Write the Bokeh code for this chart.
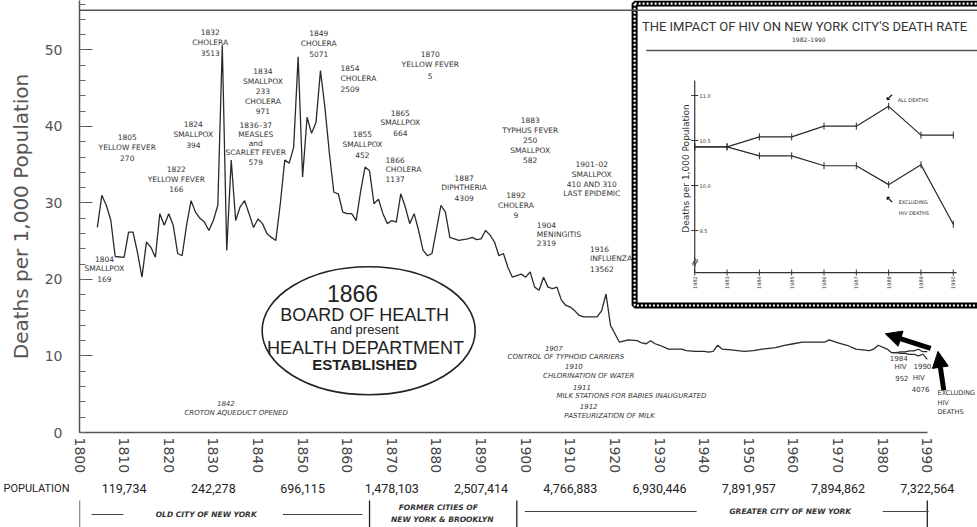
from math import pi
from bokeh.plotting import figure
from bokeh.models import Range1d, SingleIntervalTicker, FixedTicker, Span, Arrow, NormalHead
from bokeh.layouts import column
from bokeh.core.properties import value
from bokeh.embed import file_html
from bokeh.resources import INLINE

# ---------------- data ----------------
years = [1804, 1805, 1806, 1807, 1808, 1810, 1811, 1812, 1813, 1814, 1815, 1816, 1817, 1818, 1819,
         1820, 1821, 1822, 1823, 1824, 1825, 1826, 1827, 1828, 1829, 1830, 1831, 1832, 1833, 1834,
         1835, 1836, 1837, 1838, 1839, 1840, 1841, 1842, 1843, 1844, 1845, 1846, 1847, 1848, 1849,
         1850, 1851, 1852, 1853, 1854, 1855, 1856, 1857, 1858, 1859, 1860, 1861, 1862, 1863, 1864,
         1865, 1866, 1867, 1868, 1869, 1870, 1871, 1872, 1873, 1874, 1875, 1876, 1877, 1878, 1879,
         1880, 1881, 1882, 1883, 1885, 1887, 1888, 1889, 1890, 1891, 1892, 1893, 1894, 1895, 1896,
         1897, 1898, 1899, 1900, 1901, 1902, 1903, 1904, 1905, 1906, 1907, 1908, 1909, 1910, 1911,
         1912, 1913, 1916, 1917, 1918, 1919, 1920, 1921, 1923, 1925, 1926, 1927, 1928, 1929, 1930,
         1932, 1935, 1936, 1938, 1940, 1941, 1942, 1943, 1944, 1946, 1949, 1951, 1953, 1956, 1958,
         1960, 1962, 1965, 1967, 1968, 1970, 1972, 1974, 1977, 1978, 1979, 1981]
rates = [26.8, 31.0, 29.7, 27.8, 23.0, 22.9, 26.2, 26.2, 23.5, 20.3, 24.9, 24.2, 22.9, 28.6, 27.1,
         28.6, 27.1, 23.4, 23.1, 27.1, 30.3, 28.8, 28.0, 27.5, 26.4, 27.7, 29.7, 50.6, 23.8, 35.6,
         27.7, 29.5, 30.3, 28.6, 26.8, 27.9, 27.3, 26.0, 25.5, 25.1, 29.9, 35.6, 35.2, 37.3, 49.1,
         33.4, 41.2, 39.1, 40.5, 47.3, 42.5, 36.5, 31.4, 31.2, 28.8, 28.6, 28.6, 27.7, 31.5, 34.7,
         34.2, 29.9, 30.5, 28.6, 27.3, 27.7, 27.5, 31.2, 29.5, 27.3, 28.6, 26.4, 23.8, 23.1, 23.4,
         26.5, 29.7, 28.8, 25.5, 25.1, 25.3, 25.5, 25.2, 25.3, 26.4, 25.8, 24.9, 23.1, 23.4, 21.6,
         20.3, 20.5, 20.7, 20.3, 21.0, 19.0, 18.6, 20.3, 19.0, 18.8, 19.0, 17.3, 16.6, 16.4, 15.9,
         15.3, 15.1, 15.1, 15.9, 18.1, 14.0, 12.9, 11.8, 12.1, 12.0, 11.7, 11.6, 12.0, 11.6, 11.4,
         10.9, 10.9, 10.7, 10.6, 10.6, 10.5, 10.6, 11.4, 10.9, 10.8, 10.6, 10.7, 10.9, 11.1, 11.4,
         11.6, 11.8, 11.8, 11.8, 12.1, 11.7, 11.4, 10.9, 10.7, 10.9, 11.4, 10.9]

hiv_years = [1982, 1983, 1984, 1985, 1986, 1987, 1988, 1989, 1990]
all_deaths = [10.43, 10.43, 10.54, 10.54, 10.66, 10.66, 10.88, 10.56, 10.56]
excl_hiv = [10.43, 10.43, 10.33, 10.33, 10.22, 10.22, 10.01, 10.23, 9.57]

census_years = [1810, 1830, 1850, 1870, 1890, 1910, 1930, 1950, 1970, 1990]
population_labels = ["119,734", "242,278", "696,115", "1,478,103", "2,507,414",
                     "4,766,883", "6,930,446", "7,891,957", "7,894,862", "7,322,564"]
period_bounds = [1800, 1865, 1898, 1990]
decade_ticks = list(range(1800, 1991, 10))
inset_y_ticks = [9.5, 10.0, 10.5, 11.0]
inset_y_labels = ["9.5", "10.0", "10.5", "11.0"]

ANN = value("DejaVu Sans")
INK = "#2a2a2a"

# ---------------- main figure ----------------
p = figure(width=977, height=476, x_range=Range1d(1800, 2001.25), y_range=Range1d(0, 56.46),
           output_backend="svg", toolbar_location=None,
           min_border_left=76, min_border_right=0, min_border_top=0, min_border_bottom=44)
p.outline_line_color = None
p.xgrid.visible = False
p.ygrid.visible = False
p.background_fill_color = "white"

p.extra_x_ranges = {"ix": Range1d(1962.965, 1990.749)}
p.extra_y_ranges = {"iy": Range1d(7.256, 12.056)}

xa = p.xaxis[0]
xa.ticker = FixedTicker(ticks=decade_ticks)
xa.bounds = (1800, 1990)
xa.major_label_orientation = "vertical"
xa.major_tick_out = 0
xa.major_tick_in = 0
xa.minor_tick_out = 0
xa.minor_tick_in = 0
xa.major_label_standoff = 5
xa.major_label_text_font = "DejaVu Sans"
xa.major_label_text_font_size = "14px"
xa.major_label_text_color = "#444"
xa.axis_line_color = "#555"
xa.axis_line_width = 1.5

ya = p.yaxis[0]
ya.ticker = SingleIntervalTicker(interval=10, num_minor_ticks=5)
ya.major_tick_in = 13
ya.major_tick_out = 0
ya.minor_tick_in = 6
ya.minor_tick_out = 0
ya.major_tick_line_color = "#555"
ya.minor_tick_line_color = "#666"
ya.axis_line_color = "#555"
ya.axis_line_width = 1.5
ya.major_label_standoff = 17
ya.major_label_text_font = "DejaVu Sans"
ya.major_label_text_font_size = "14px"
ya.major_label_text_color = "#555"
ya.axis_label = "Deaths per 1,000 Population"
ya.axis_label_text_font = "DejaVu Sans"
ya.axis_label_text_font_size = "20px"
ya.axis_label_text_font_style = "normal"
ya.axis_label_text_color = "#555"
ya.axis_label_standoff = 9

p.add_layout(Span(location=55.2, dimension="width", line_color="#555", line_width=1.5))

# main series
p.line(years + [hiv_years[0]], rates + [all_deaths[0]], line_color=INK, line_width=1.3)
p.line(hiv_years, all_deaths, line_color=INK, line_width=1.2)
p.line(hiv_years, excl_hiv, line_color=INK, line_width=1.2)


def txt(fig, x, y, s, size="7.5px", align="center", style="normal", font=ANN, color="#333",
        angle=0, xr="default", yr="default"):
    fig.text(x=[x], y=[y], text=[s], text_font=font, text_font_size=size, text_align=align,
             text_baseline="middle", text_color=color, text_font_style=style, angle=angle,
             x_range_name=xr, y_range_name=yr)


notes = [
    (1810.7, 38.6, ["1805", "YELLOW FEVER", "270"], "center", 1.37),
    (1821.7, 34.4, ["1822", "YELLOW FEVER", "166"], "center", 1.31),
    (1825.5, 40.3, ["1824", "SMALLPOX", "394"], "center", 1.37),
    (1829.3, 52.3, ["1832", "CHOLERA", "3513"], "center", 1.37),
    (1841.1, 47.2, ["1834", "SMALLPOX", "233", "CHOLERA", "971"], "center", 1.31),
    (1839.5, 40.1, ["1836\u201337", "MEASLES", "and", "SCARLET FEVER", "579"], "center", 1.18),
    (1853.6, 52.2, ["1849", "CHOLERA", "5071"], "center", 1.37),
    (1858.5, 47.6, ["1854", "CHOLERA", "2509"], "left", 1.37),
    (1863.4, 39.0, ["1855", "SMALLPOX", "452"], "center", 1.37),
    (1878.6, 49.5, ["1870", "YELLOW FEVER", "5"], "center", 1.44),
    (1871.9, 41.8, ["1865", "SMALLPOX", "664"], "center", 1.31),
    (1868.6, 35.6, ["1866", "CHOLERA", "1137"], "left", 1.24),
    (1886.2, 33.3, ["1887", "DIPHTHERIA", "4309"], "center", 1.31),
    (1901.0, 40.8, ["1883", "TYPHUS FEVER", "250", "SMALLPOX", "582"], "center", 1.31),
    (1897.8, 31.0, ["1892", "CHOLERA", "9"], "center", 1.31),
    (1914.8, 35.0, ["1901\u201302", "SMALLPOX", "410 AND 310", "LAST EPIDEMIC"], "center", 1.27),
    (1902.5, 27.1, ["1904", "MENINGITIS", "2319"], "left", 1.18),
    (1914.4, 24.0, ["1916", "INFLUENZA", "13562"], "left", 1.31),
    (1805.6, 22.7, ["1804", "SMALLPOX", "169"], "center", 1.31),
]
for x, y, lines, align, dy in notes:
    for i, s in enumerate(lines):
        txt(p, x, y - i * dy, s, align=align)

italic_notes = [
    (1832.8, 3.8, "1842"), (1835.1, 2.5, "CROTON AQUEDUCT OPENED"),
    (1906.3, 11.1, "1907"), (1909.0, 9.93, "CONTROL OF TYPHOID CARRIERS"),
    (1910.8, 8.63, "1910"), (1914.1, 7.32, "CHLORINATION OF WATER"),
    (1912.6, 6.01, "1911"), (1923.7, 4.71, "MILK STATIONS FOR BABIES INAUGURATED"),
    (1914.1, 3.40, "1912"), (1918.8, 2.22, "PASTEURIZATION OF MILK"),
]
for x, y, s in italic_notes:
    txt(p, x, y, s, size="7px", style="italic")

hiv_notes = [(1983.6, 9.80, "1984"), (1984.0, 8.50, "HIV"), (1988.9, 8.63, "1990"),
             (1984.3, 7.06, "952"), (1988.1, 7.06, "HIV"), (1988.5, 5.75, "4076")]
for x, y, s in hiv_notes:
    txt(p, x, y, s, size="7px")
for i, s in enumerate(["EXCLUDING", "HIV", "DEATHS"]):
    txt(p, 1992.3, 5.10 - i * 1.18, s, size="6.5px", align="left")

# 1866 cloud
p.ellipse(x=[1864.8], y=[13.3], width=213, height=128, width_units="screen", height_units="screen",
          fill_color=None, line_color="#222", line_width=1.6)
cloud = [(1861.2, 18.2, "1866", "23px", "normal"),
         (1863.9, 15.4, "BOARD OF HEALTH", "18px", "normal"),
         (1863.9, 13.5, "and present", "13px", "normal"),
         (1864.1, 11.1, "HEALTH DEPARTMENT", "18px", "normal"),
         (1863.9, 8.9, "ESTABLISHED", "15px", "bold")]
for x, y, s, size, style in cloud:
    txt(p, x, y, s, size=size, style=style, font=value("Liberation Sans"), color="#222")

# big arrows
p.add_layout(Arrow(end=NormalHead(size=16, fill_color="black", line_color="black"),
                   x_start=1990.75, y_start=10.98, x_end=1980.6, y_end=12.9,
                   line_color="black", line_width=5))
p.add_layout(Arrow(end=NormalHead(size=16, fill_color="black", line_color="black"),
                   x_start=1993.7, y_start=5.5, x_end=1992.4, y_end=10.6,
                   line_color="black", line_width=5))

# ---------------- inset (drawn through its own extra ranges) ----------------
IX, IY = "ix", "iy"
p.quad(left=[1980.14], right=[1991.5], bottom=[8.667], top=[12.022], x_range_name=IX, y_range_name=IY,
       fill_color="white", line_color="black", line_width=6)
p.quad(left=[1980.14], right=[1991.5], bottom=[8.667], top=[12.022], x_range_name=IX, y_range_name=IY,
       fill_color=None, line_color="white", line_width=2.2, line_dash="2 2")
txt(p, 1985.4, 11.767, "THE IMPACT OF HIV ON NEW YORK CITY'S DEATH RATE", size="13px",
    font=value("Roboto"), color="#333", xr=IX, yr=IY)
txt(p, 1985.53, 11.622, "1982\u20131990", size="6px", color="#333", xr=IX, yr=IY)
p.segment(x0=[1980.5], y0=[11.5], x1=[1991.5], y1=[11.5], x_range_name=IX, y_range_name=IY,
          line_color="#555", line_width=1.5)

# inset axes
p.segment(x0=[1982], y0=[11.167], x1=[1982], y1=[9.033], x_range_name=IX, y_range_name=IY,
          line_color="#333", line_width=1.2)
p.segment(x0=[1982], y0=[9.033], x1=[1990.1], y1=[9.033], x_range_name=IX, y_range_name=IY,
          line_color="#333", line_width=1.2)
p.dash(x=[1982] * len(inset_y_ticks), y=inset_y_ticks, size=7, x_range_name=IX, y_range_name=IY,
       line_color="#333")
p.text(x=[1982.15] * len(inset_y_ticks), y=inset_y_ticks, text=inset_y_labels, text_font=ANN,
       text_font_size="5px", text_baseline="middle", text_color="#333", x_range_name=IX, y_range_name=IY)
p.dash(x=hiv_years, y=[9.033] * len(hiv_years), angle=pi / 2, size=6, x_range_name=IX, y_range_name=IY,
       line_color="#333")
p.text(x=hiv_years, y=[8.922] * len(hiv_years), text=[str(v) for v in hiv_years], angle=pi / 2,
       text_font=ANN, text_font_size="5px", text_align="center", text_baseline="middle",
       text_color="#333", x_range_name=IX, y_range_name=IY)
txt(p, 1981.72, 10.19, "Deaths per 1,000 Population", size="9px", angle=pi / 2, color="#333", xr=IX, yr=IY)
txt(p, 1982.0, 9.15, "\u2248", size="12px", angle=1.2, color="#333", xr=IX, yr=IY)

# inset series
p.line(hiv_years, all_deaths, x_range_name=IX, y_range_name=IY, line_color=INK, line_width=1.2)
p.line(hiv_years, excl_hiv, x_range_name=IX, y_range_name=IY, line_color=INK, line_width=1.2)
p.dash(x=hiv_years, y=all_deaths, angle=pi / 2, size=7, x_range_name=IX, y_range_name=IY, line_color=INK)
p.dash(x=hiv_years, y=excl_hiv, angle=pi / 2, size=7, x_range_name=IX, y_range_name=IY, line_color=INK)

txt(p, 1988.28, 10.956, "ALL DEATHS", size="5px", align="left", xr=IX, yr=IY)
txt(p, 1988.03, 10.98, "\u2199", size="10px", style="bold", color="black", xr=IX, yr=IY)
txt(p, 1988.31, 9.822, "EXCLUDING", size="5px", align="left", xr=IX, yr=IY)
txt(p, 1988.31, 9.70, "HIV DEATHS", size="5px", align="left", xr=IX, yr=IY)
txt(p, 1988.03, 9.85, "\u2196", size="10px", style="bold", color="black", xr=IX, yr=IY)

# ---------------- bottom strip: population & city periods ----------------
b = figure(width=977, height=51, x_range=p.x_range, y_range=Range1d(0, 51),
           output_backend="svg", toolbar_location=None, x_axis_type=None,
           min_border_left=76, min_border_right=0, min_border_top=0, min_border_bottom=0)
b.outline_line_color = None
b.xgrid.visible = False
b.ygrid.visible = False
yb = b.yaxis[0]
yb.ticker = FixedTicker(ticks=[39])
yb.major_label_overrides = {39: "POPULATION"}
yb.axis_line_color = None
yb.major_tick_line_color = None
yb.minor_tick_line_color = None
yb.major_label_standoff = 4
yb.major_label_text_font = "Roboto"
yb.major_label_text_font_size = "11px"
yb.major_label_text_color = "#222"

b.text(x=census_years, y=[39] * len(census_years), text=population_labels, text_font=value("Roboto"),
       text_font_size="12.5px", text_align="center", text_baseline="middle", text_color="#222")
b.segment(x0=period_bounds, y0=[0] * 4, x1=period_bounds, y1=[27] * 4, line_color="#222", line_width=1.3)

txt(b, 1828.4, 13, "OLD CITY OF NEW YORK", size="7.5px", style="bold italic", color="#333")
b.segment(x0=[1802.7, 1845.6], y0=[13, 13], x1=[1809.8, 1863.4], y1=[13, 13], line_color="#444", line_width=1)
txt(b, 1880.4, 20, "FORMER CITIES OF", size="7.5px", style="bold italic", color="#333")
txt(b, 1881.3, 8, "NEW YORK & BROOKLYN", size="7.5px", style="bold italic", color="#333")
txt(b, 1959.3, 16, "GREATER CITY OF NEW YORK", size="7.5px", style="bold italic", color="#333")
b.segment(x0=[1899.8, 1980.0], y0=[16, 16], x1=[1938.3, 1990.3], y1=[16, 16], line_color="#444", line_width=1)

layout = column(p, b, spacing=0)
open("out.html", "w").write(file_html(layout, INLINE))
